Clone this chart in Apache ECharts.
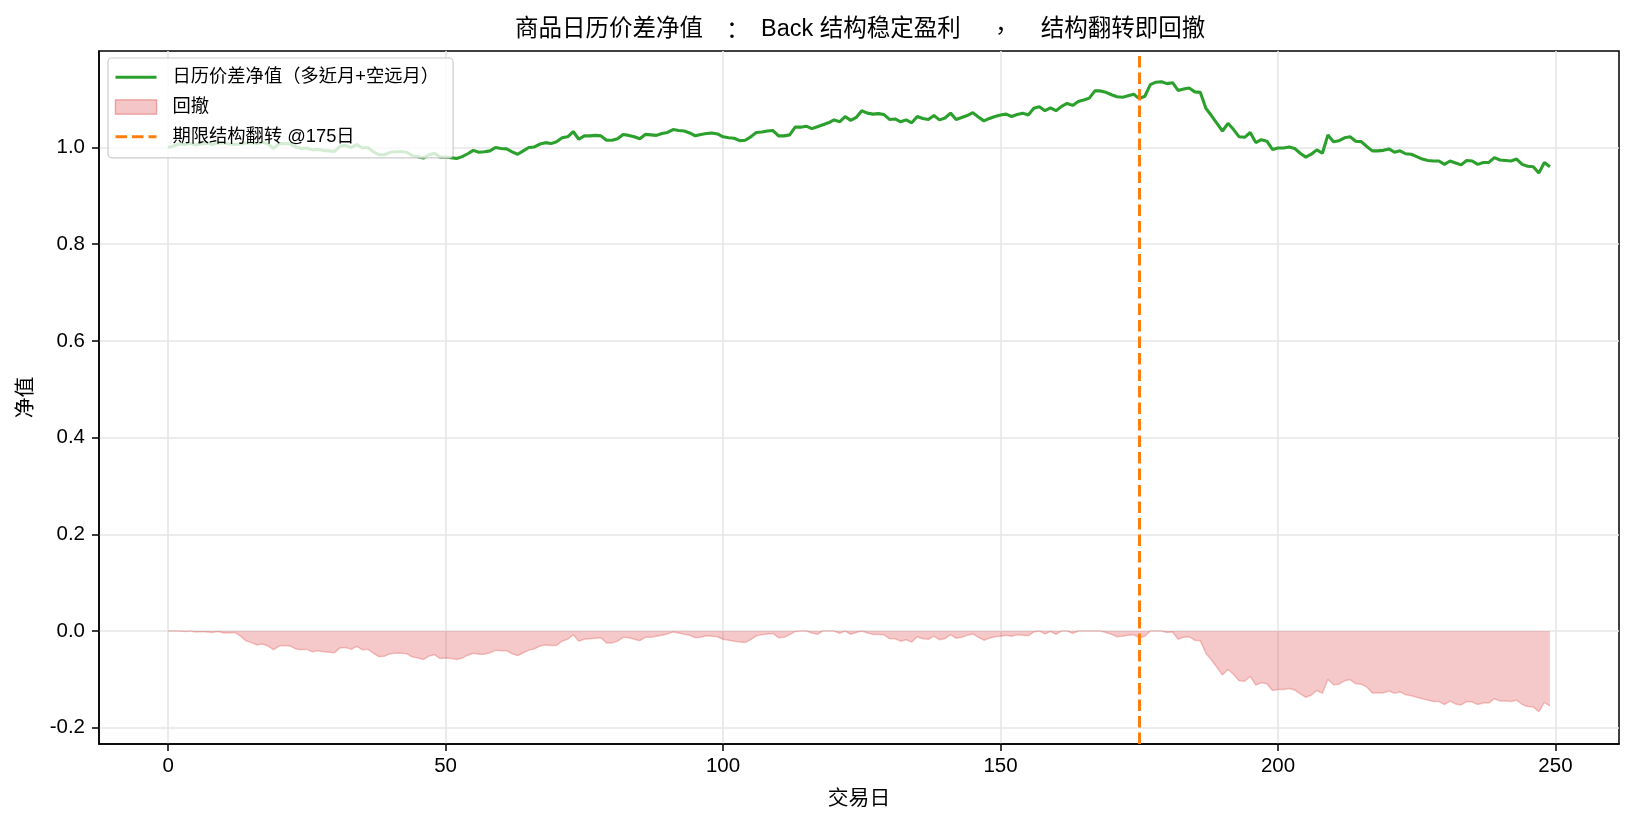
<!DOCTYPE html>
<html>
<head>
<meta charset="utf-8">
<script src="https://cdn.jsdelivr.net/npm/echarts@6/dist/echarts.min.js"></script>
<style>
html,body{margin:0;padding:0;background:#fff;}
#chart{width:1634px;height:825px;}
</style>
</head>
<body>
<div id="chart"></div>
<script>
// ---- data ----
const days = Array.from({length: 250}, (_, i) => i);
const navValues = [
1.000,1.003,1.007,1.006,1.008,1.005,1.007,1.009,1.006,1.009,
1.010,1.007,1.006,1.007,1.009,1.010,1.008,1.011,1.007,0.998,
1.008,1.008,1.007,1.001,0.998,0.999,0.995,0.996,0.994,0.993,
0.992,1.003,1.004,1.000,1.006,0.999,1.000,0.991,0.985,0.985,
0.990,0.991,0.991,0.990,0.983,0.981,0.978,0.985,0.988,0.980,
0.980,0.979,0.977,0.981,0.987,0.994,0.990,0.991,0.993,1.000,
0.998,0.997,0.991,0.986,0.993,1.000,1.001,1.007,1.010,1.008,
1.012,1.020,1.022,1.033,1.017,1.024,1.024,1.025,1.024,1.015,
1.015,1.018,1.027,1.025,1.022,1.018,1.027,1.026,1.025,1.029,
1.031,1.037,1.035,1.034,1.030,1.024,1.027,1.029,1.030,1.028,
1.022,1.020,1.019,1.014,1.015,1.022,1.031,1.032,1.034,1.035,
1.024,1.024,1.026,1.042,1.042,1.044,1.039,1.043,1.047,1.051,
1.057,1.053,1.064,1.056,1.062,1.076,1.071,1.069,1.070,1.068,
1.058,1.059,1.053,1.057,1.051,1.064,1.060,1.058,1.066,1.057,
1.061,1.071,1.058,1.062,1.066,1.072,1.063,1.055,1.060,1.064,
1.067,1.069,1.064,1.068,1.071,1.067,1.081,1.084,1.076,1.082,
1.076,1.085,1.091,1.087,1.095,1.098,1.102,1.117,1.117,1.114,
1.109,1.105,1.104,1.107,1.110,1.101,1.106,1.130,1.135,1.136,
1.132,1.134,1.118,1.121,1.123,1.115,1.114,1.081,1.066,1.050,
1.034,1.050,1.037,1.022,1.021,1.031,1.010,1.016,1.013,0.996,
0.999,0.999,1.001,0.998,0.988,0.980,0.986,0.995,0.988,1.026,
1.012,1.014,1.020,1.022,1.013,1.012,1.002,0.993,0.993,0.994,
0.997,0.990,0.993,0.987,0.986,0.981,0.976,0.973,0.972,0.972,
0.965,0.972,0.968,0.964,0.973,0.972,0.965,0.969,0.969,0.979,
0.974,0.973,0.972,0.976,0.965,0.961,0.960,0.947,0.969,0.960
];
const drawdownValues = [
0,0,0,-0.001,0,-0.002,-0.001,-0.002,-0.003,-0.001,
-0.004,-0.004,-0.003,-0.010,-0.020,-0.024,-0.029,-0.027,-0.031,-0.039,
-0.031,-0.030,-0.031,-0.037,-0.039,-0.038,-0.043,-0.041,-0.043,-0.044,
-0.045,-0.035,-0.034,-0.038,-0.032,-0.039,-0.038,-0.046,-0.053,-0.052,
-0.047,-0.046,-0.046,-0.047,-0.054,-0.056,-0.059,-0.052,-0.049,-0.057,
-0.056,-0.057,-0.059,-0.056,-0.050,-0.046,-0.048,-0.048,-0.045,-0.040,
-0.041,-0.041,-0.047,-0.051,-0.045,-0.040,-0.037,-0.031,-0.029,-0.030,
-0.030,-0.021,-0.017,-0.008,-0.021,-0.017,-0.016,-0.015,-0.014,-0.025,
-0.025,-0.021,-0.013,-0.014,-0.017,-0.020,-0.013,-0.013,-0.011,-0.009,
-0.006,-0.002,-0.004,-0.007,-0.009,-0.014,-0.013,-0.010,-0.011,-0.012,
-0.017,-0.019,-0.021,-0.023,-0.024,-0.018,-0.010,-0.008,-0.006,-0.005,
-0.014,-0.013,-0.008,-0.001,0,0,-0.004,-0.007,0,0,
0,-0.005,0,-0.007,-0.003,0,-0.004,-0.007,-0.007,-0.008,
-0.016,-0.016,-0.021,-0.018,-0.023,-0.012,-0.016,-0.017,-0.011,-0.018,
-0.016,-0.008,-0.015,-0.013,-0.009,-0.006,-0.013,-0.019,-0.015,-0.012,
-0.011,-0.009,-0.011,-0.008,-0.009,-0.010,-0.002,0,-0.006,-0.001,
-0.007,0,0,-0.005,0,0,0,0,0,-0.003,
-0.007,-0.012,-0.011,-0.009,-0.008,-0.014,-0.011,0,0,0,
-0.003,-0.002,-0.017,-0.013,-0.012,-0.019,-0.020,-0.046,-0.060,-0.075,
-0.091,-0.079,-0.090,-0.103,-0.104,-0.094,-0.112,-0.107,-0.109,-0.123,
-0.121,-0.121,-0.119,-0.122,-0.130,-0.137,-0.133,-0.123,-0.129,-0.100,
-0.111,-0.110,-0.103,-0.101,-0.109,-0.110,-0.116,-0.128,-0.128,-0.128,
-0.124,-0.129,-0.126,-0.132,-0.134,-0.137,-0.140,-0.143,-0.146,-0.146,
-0.152,-0.145,-0.151,-0.153,-0.146,-0.147,-0.152,-0.149,-0.149,-0.140,
-0.145,-0.145,-0.146,-0.143,-0.152,-0.156,-0.157,-0.167,-0.148,-0.155
];
const xTicks = [0, 50, 100, 150, 200, 250];
const yTicks = [-0.2, 0.0, 0.2, 0.4, 0.6, 0.8, 1.0];
const flipDay = 175;
const titleParts = ['商品日历价差净值', '：', 'Back 结构稳定盈利', '，', '结构翻转即回撤'];
const navName = '日历价差净值（多近月+空远月）';
const ddName = '回撤';
const flipName = '期限结构翻转 @' + flipDay + '日';

// ---- chart ----
const FONT = '"Liberation Sans", "Noto Sans CJK SC", sans-serif';
const PUNCT_FONT = '"Noto Sans CJK TC", sans-serif';
const chart = echarts.init(document.getElementById('chart'), null, {renderer: 'canvas'});
const navData = days.map((d, i) => [d, navValues[i]]);
const ddData = days.map((d, i) => [d, drawdownValues[i]]);
const gridColor = '#e6e6e6';
const titleRich = titleParts.map((t, k) => (k === 1 ? '{c|' + t + '}' : k === 3 ? '{m|' + t + '}' : '{a|' + t + '}')).join('');

chart.setOption({
  animation: false,
  backgroundColor: '#ffffff',
  textStyle: {fontFamily: FONT},
  title: {
    text: titleRich,
    left: 510,
    top: 13,
    textStyle: {
      fontFamily: FONT, fontSize: 23.5, fontWeight: 'normal', color: '#000',
      rich: {
        a: {fontFamily: FONT, fontSize: 23.5, color: '#000'},
        c: {fontFamily: PUNCT_FONT, fontSize: 23.5, color: '#000', width: 58, align: 'center'},
        m: {fontFamily: PUNCT_FONT, fontSize: 23.5, color: '#000', width: 80, align: 'center'}
      }
    }
  },
  grid: {
    left: 99, right: 15, top: 51, bottom: 81,
    show: true, borderColor: '#000', borderWidth: 1.5, backgroundColor: 'transparent'
  },
  legend: {
    orient: 'vertical',
    left: 108, top: 58,
    padding: [10, 14, 12, 6],
    itemGap: 11.5,
    itemWidth: 41,
    itemHeight: 14,
    backgroundColor: 'rgba(255,255,255,0.8)',
    borderColor: '#cccccc',
    borderWidth: 1.2,
    borderRadius: 4,
    lineStyle: {width: 3},
    textStyle: {fontFamily: '"Liberation Sans", "Noto Sans CJK TC", sans-serif', fontSize: 18.3, color: '#000', padding: [0, 0, 0, 11]},
    data: [
      {name: navName, itemStyle: {opacity: 0}},
      {name: ddName, icon: 'rect', itemStyle: {color: '#f4c6c7', borderColor: '#eda0a0', borderWidth: 1.5}},
      {name: flipName, itemStyle: {opacity: 0}}
    ]
  },
  xAxis: {
    type: 'value',
    min: -12.45, max: 261.45,
    name: '交易日',
    nameLocation: 'middle',
    nameGap: 45,
    nameTextStyle: {fontFamily: FONT, fontSize: 20.8, color: '#000'},
    axisLine: {show: true, onZero: false, lineStyle: {color: '#000', width: 1.5}},
    axisTick: {show: true, inside: false, length: 7, customValues: xTicks, lineStyle: {color: '#000', width: 1.5}},
    axisLabel: {show: true, customValues: xTicks, margin: 12, fontFamily: FONT, fontSize: 20.5, color: '#000',
      formatter: v => String(v)},
    splitLine: {show: true, lineStyle: {color: gridColor, width: 1.6}}
  },
  yAxis: {
    type: 'value',
    min: -0.2337, max: 1.1995,
    name: '净值',
    nameLocation: 'middle',
    nameGap: 62,
    nameTextStyle: {fontFamily: FONT, fontSize: 20.8, color: '#000'},
    axisLine: {show: true, onZero: false, lineStyle: {color: '#000', width: 1.5}},
    axisTick: {show: true, inside: false, length: 7, customValues: yTicks, lineStyle: {color: '#000', width: 1.5}},
    axisLabel: {show: true, customValues: yTicks, margin: 14, fontFamily: FONT, fontSize: 20.5, color: '#000',
      formatter: v => (Math.abs(v) < 1e-9 ? 0 : v).toFixed(1)},
    splitLine: {show: true, lineStyle: {color: gridColor, width: 1.6}}
  },
  series: [
    {
      name: navName,
      type: 'line',
      data: navData,
      symbol: 'none',
      z: 3,
      lineStyle: {color: '#2ca02c', width: 3.1},
      itemStyle: {color: '#2ca02c'}
    },
    {
      name: ddName,
      type: 'line',
      data: ddData,
      symbol: 'none',
      z: 2,
      lineStyle: {color: 'rgba(214,39,40,0.25)', width: 1.5},
      itemStyle: {color: '#f4c6c7'},
      areaStyle: {color: 'rgba(214,39,40,0.25)', opacity: 1}
    },
    {
      name: flipName,
      type: 'line',
      data: [],
      symbol: 'none',
      z: 4,
      lineStyle: {color: '#ff7f0e', width: 3, type: [11.5, 5]},
      itemStyle: {color: '#ff7f0e'},
      markLine: {
        silent: true,
        symbol: 'none',
        label: {show: false},
        lineStyle: {color: '#ff7f0e', width: 3, type: [11.5, 5]},
        data: [{xAxis: flipDay}]
      }
    }
  ]
});
</script>
</body>
</html>
